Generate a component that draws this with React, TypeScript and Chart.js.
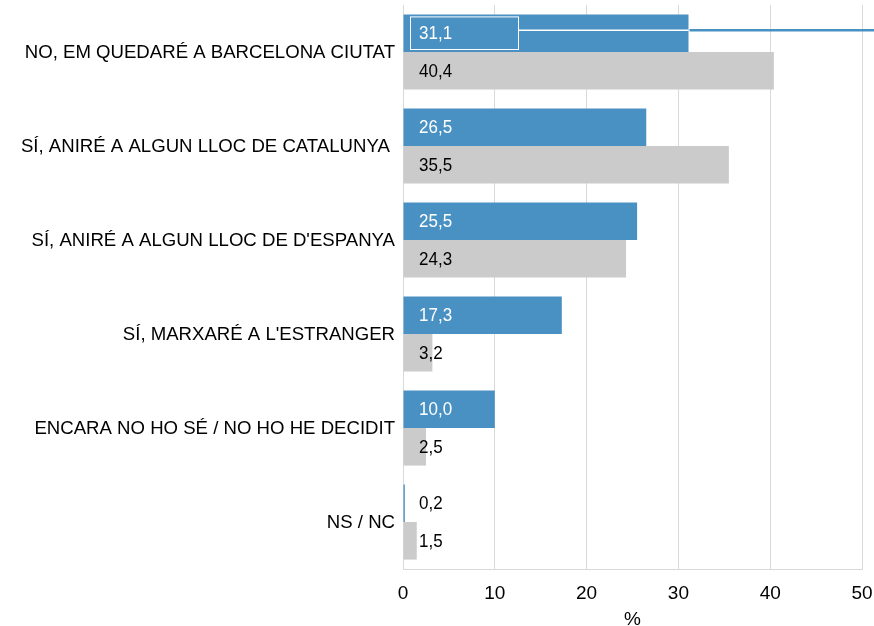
import React, { useEffect, useRef } from 'react';
import { Chart, registerables } from 'chart.js';

Chart.register(...registerables);

const categories = [
  'NO, EM QUEDARÉ A BARCELONA CIUTAT',
  'SÍ, ANIRÉ A ALGUN LLOC DE CATALUNYA ',
  "SÍ, ANIRÉ A ALGUN LLOC DE D'ESPANYA",
  "SÍ, MARXARÉ A L'ESTRANGER",
  'ENCARA NO HO SÉ / NO HO HE DECIDIT',
  'NS / NC',
];
const seriesBlue = [31.1, 26.5, 25.5, 17.3, 10.0, 0.2];
const seriesGray = [40.4, 35.5, 24.3, 3.2, 2.5, 1.5];
const xMin = 0;
const xMax = 50;
const xStep = 10;
const xTitle = '%';

const BLUE = '#4a91c3';
const GRAY = '#cbcbcb';
const GRID = '#d9d9d9';
const FONT = "'Liberation Sans', Arial, sans-serif";

const fmt = (v: number) => v.toFixed(1).replace('.', ',');

const labelsPlugin = {
  id: 'valueLabels',
  afterDatasetsDraw(chart: any) {
    const ctx = chart.ctx;
    const left = chart.chartArea.left;
    ctx.save();
    ctx.font = `17px ${FONT}`;
    ctx.textAlign = 'left';
    ctx.textBaseline = 'middle';
    chart.data.datasets.forEach((ds: any, di: number) => {
      const meta = chart.getDatasetMeta(di);
      meta.data.forEach((el: any, i: number) => {
        const v = ds.data[i];
        const tx = left + 16;
        const inside = el.x > tx + 20;
        ctx.fillStyle = di === 0 && inside ? '#ffffff' : '#000000';
        ctx.save();
        ctx.translate(tx, el.y + 1);
        ctx.scale(1, 1.12);
        ctx.fillText(fmt(v), 0, 0);
        ctx.restore();
      });
    });
    ctx.restore();
  },
};

const artifactPlugin = {
  id: 'artifact',
  afterDraw(chart: any) {
    const ctx = chart.ctx;
    const left = chart.chartArea.left;
    const el = chart.getDatasetMeta(0).data[0];
    if (!el) return;
    const top = el.y - el.height / 2;
    const bot = el.y + el.height / 2;
    const rx1 = left + 7.5;
    const rx2 = left + 115.5;
    const ly = el.y - 3;
    ctx.save();
    ctx.strokeStyle = '#ffffff';
    ctx.lineWidth = 1;
    ctx.strokeRect(rx1, top + 2.5, rx2 - rx1, bot - top - 5);
    ctx.lineWidth = 1.5;
    ctx.beginPath();
    ctx.moveTo(rx2, ly);
    ctx.lineTo(el.x, ly);
    ctx.stroke();
    ctx.strokeStyle = BLUE;
    ctx.lineWidth = 2.5;
    ctx.beginPath();
    ctx.moveTo(el.x + 1, ly);
    ctx.lineTo(chart.width, ly);
    ctx.stroke();
    ctx.restore();
  },
};

const xAxisTextPlugin = {
  id: 'xAxisText',
  afterDraw(chart: any) {
    const ctx = chart.ctx;
    const xs = chart.scales.x;
    ctx.save();
    ctx.font = `19px ${FONT}`;
    ctx.fillStyle = '#000000';
    ctx.textAlign = 'center';
    ctx.textBaseline = 'middle';
    xs.ticks.forEach((t: any) => {
      const px = xs.getPixelForValue(t.value);
      ctx.fillText(String(t.value), px, xs.top + 25);
    });
    const cx = (chart.chartArea.left + chart.chartArea.right) / 2;
    ctx.fillText(xTitle, cx, xs.top + 51);
    ctx.restore();
  },
};

export default function App() {
  const ref = useRef<HTMLCanvasElement | null>(null);
  useEffect(() => {
    if (!ref.current) return;
    const chart = new Chart(ref.current, {
      type: 'bar',
      data: {
        labels: categories,
        datasets: [
          {
            data: seriesBlue,
            backgroundColor: BLUE,
            borderWidth: 0,
            categoryPercentage: 0.8,
            barPercentage: 1.0,
          },
          {
            data: seriesGray,
            backgroundColor: GRAY,
            borderWidth: 0,
            categoryPercentage: 0.8,
            barPercentage: 1.0,
          },
        ],
      },
      options: {
        indexAxis: 'y',
        animation: false,
        responsive: true,
        maintainAspectRatio: false,
        layout: { padding: { top: 5, right: 12, left: 0, bottom: 0 } },
        plugins: {
          legend: { display: false },
          tooltip: { enabled: false },
        },
        scales: {
          x: {
            min: xMin,
            max: xMax,
            ticks: { stepSize: xStep, display: false },
            grid: { color: GRID, drawTicks: false, lineWidth: 1 },
            border: { color: GRID },
            afterFit: (s: any) => {
              s.height = 57;
              s.paddingLeft = 0;
              s.paddingRight = 0;
            },
          },
          y: {
            ticks: {
              color: '#000000',
              font: { size: 18.6, family: FONT },
              padding: 8,
              labelOffset: 1,
            },
            grid: { display: false, drawTicks: false },
            border: { display: true, color: GRID },
            afterFit: (s: any) => {
              s.width = 403;
              s.paddingTop = 0;
              s.paddingBottom = 0;
            },
          },
        },
      },
      plugins: [labelsPlugin, artifactPlugin, xAxisTextPlugin],
    });
    return () => chart.destroy();
  }, []);
  return (
    <div style={{ position: 'absolute', left: 0, top: 0, width: 874, height: 626, background: '#fff' }}>
      <canvas ref={ref} />
    </div>
  );
}
